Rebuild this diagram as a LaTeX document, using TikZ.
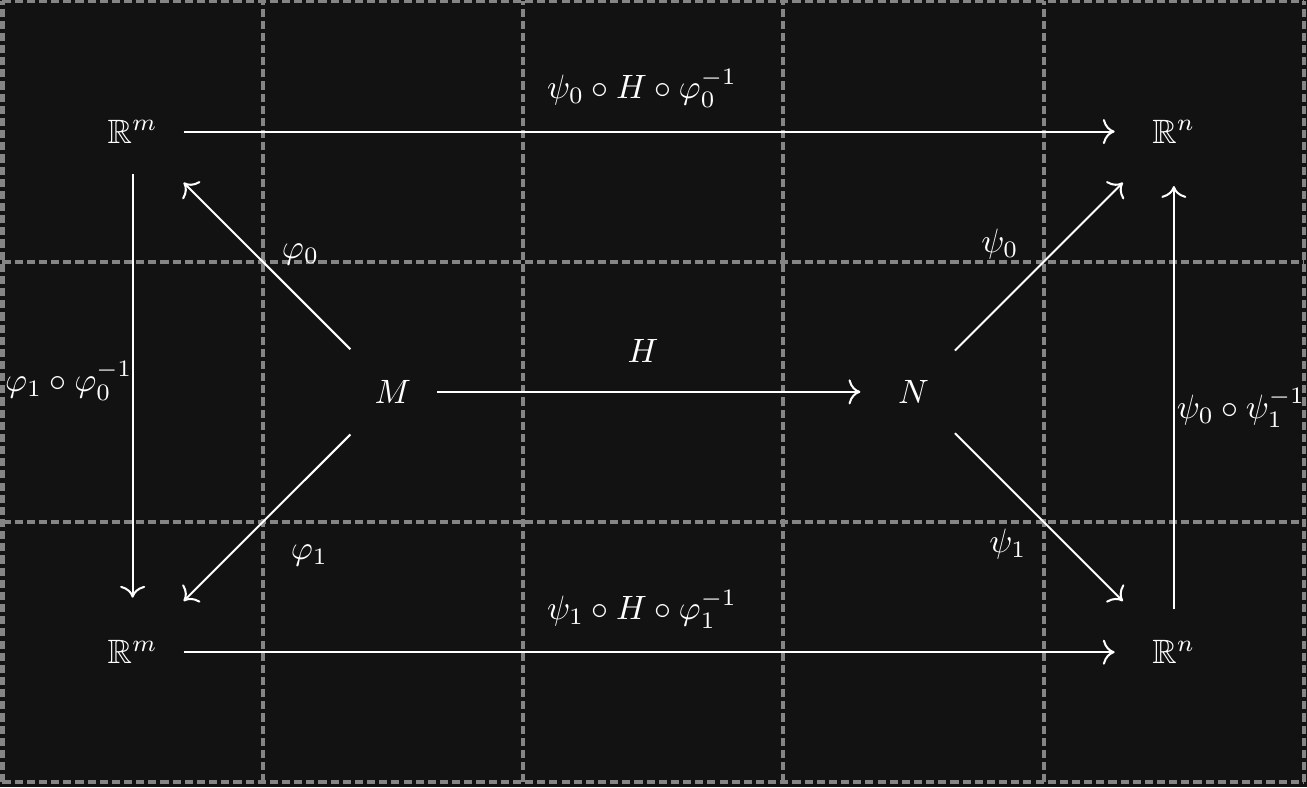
\documentclass[tikz,border=0pt]{standalone}
\usepackage{amssymb}
\usetikzlibrary{arrows.meta}
\definecolor{bgdark}{HTML}{121212}
\definecolor{gridgray}{HTML}{858585}
\tikzset{
  obj/.style={inner xsep=7.5pt,inner ysep=9pt,text=white},
  lbl/.style={anchor=base,inner sep=0pt,text=white},
  map/.style={white,line width=0.6pt,shorten >=3.5pt,
    -{Computer Modern Rightarrow[width=7.4pt,length=3.5pt]}},
  gridline/.style={gridgray,line width=1.2pt,dash pattern=on 2.4pt off 1.2pt}
}
\begin{document}
\begin{tikzpicture}[x=27.1mm,y=27.1mm]
  \useasboundingbox (-0.0096,-0.018) rectangle (5.0115,3.0055);
  \fill[bgdark] (-0.0096,-0.018) rectangle (5.0115,3.0055);
  \foreach \i in {0,...,5} \draw[gridline] (\i,0) -- (\i,3);
  \foreach \j in {0,...,3} \draw[gridline] (0,\j) -- (5,\j);
  % spaces
  \node[obj] (Rm1) at (0.5,2.5) {$\mathbb{R}^m$};
  \node[obj] (Rn1) at (4.5,2.5) {$\mathbb{R}^n$};
  \node[obj] (M) at (1.5,1.5) {$M$};
  \node[obj] (N) at (3.5,1.5) {$N$};
  \node[obj] (Rm2) at (0.5,0.5) {$\mathbb{R}^m$};
  \node[obj] (Rn2) at (4.5,0.5) {$\mathbb{R}^n$};
  % maps
  \draw[map] (Rm1) -- (Rn1);
  \draw[map] (Rm2) -- (Rn2);
  \draw[map] (M) -- (N);
  \draw[map] (M) -- (Rm1);
  \draw[map] (M) -- (Rm2);
  \draw[map] (N) -- (Rn1);
  \draw[map] (N) -- (Rn2);
  \draw[map] (Rm1) -- (Rm2);
  \draw[map] (Rn2) -- (Rn1);
  % labels
  \node[lbl] (top) at (2.457,2.626) {$\psi_0\circ H\circ\varphi_0^{-1}$};
  \node[lbl] (bot) at (2.457,0.624) {$\psi_1\circ H\circ\varphi_1^{-1}$};
  \node[lbl] (h) at (2.461,1.613) {$H$};
  \node[lbl] (phi0) at (1.145,2.012) {$\varphi_0$};
  \node[lbl] (phi1) at (1.179,0.857) {$\varphi_1$};
  \node[lbl] (psi0) at (3.832,2.037) {$\psi_0$};
  \node[lbl] (psi1) at (3.863,0.882) {$\psi_1$};
  \node[lbl] (left) at (0.255,1.502) {$\varphi_1\circ\varphi_0^{-1}$};
  \node[lbl] (right) at (4.758,1.398) {$\psi_0\circ\psi_1^{-1}$};
\end{tikzpicture}
\end{document}
